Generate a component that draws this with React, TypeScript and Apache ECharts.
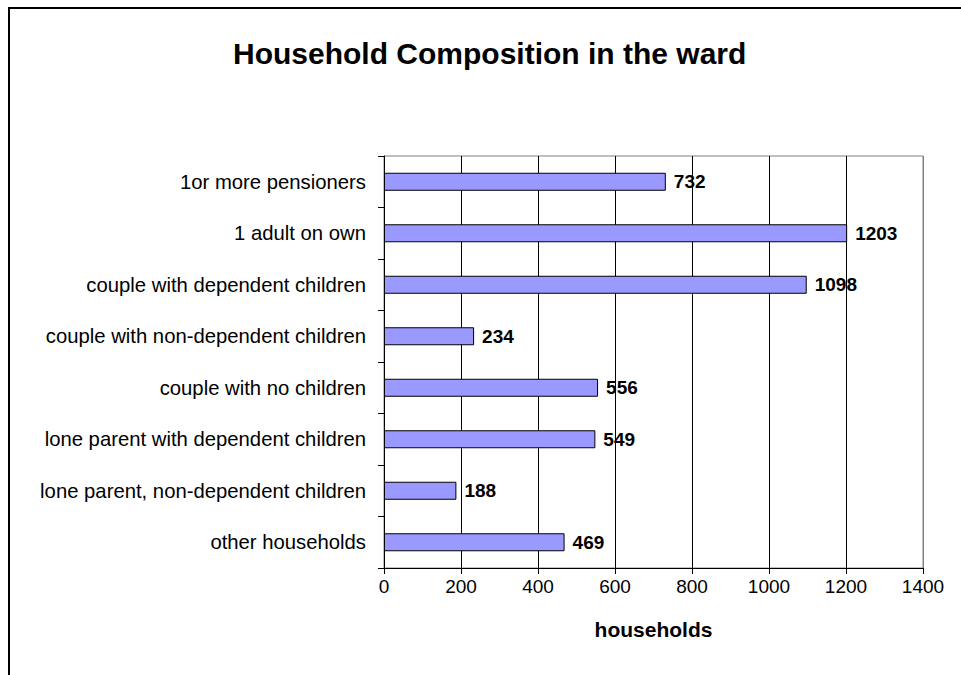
import React, { useEffect, useRef } from "react";
import * as echarts from "echarts";

const categories = [
  "1or more pensioners",
  "1 adult on own",
  "couple with dependent children",
  "couple with non-dependent children",
  "couple with no children",
  "lone parent with dependent children",
  "lone parent, non-dependent children",
  "other households",
];
const households = [732, 1203, 1098, 234, 556, 549, 188, 469];
const chartTitle = "Household Composition in the ward";
const xAxisName = "households";

const FONT = "'Liberation Sans', Arial, sans-serif";

export default function App() {
  const ref = useRef<HTMLDivElement>(null);
  useEffect(() => {
    if (!ref.current) return;
    const chart = echarts.init(ref.current, undefined, { renderer: "svg" });
    chart.setOption({
      animation: false,
      backgroundColor: "#ffffff",
      title: {
        text: chartTitle,
        left: 233,
        top: 38,
        padding: 0,
        textStyle: { fontFamily: FONT, fontSize: 30, fontWeight: "bold", color: "#000" },
      },
      graphic: [
        {
          type: "rect",
          shape: { x: 9, y: 8, width: 1200, height: 1200 },
          style: { fill: "none", stroke: "#000", lineWidth: 2 },
          silent: true,
        },
      ],
      grid: {
        left: 384,
        right: 38,
        top: 156,
        bottom: 107,
        show: true,
        borderColor: "#808080",
        borderWidth: 1,
        backgroundColor: "transparent",
      },
      xAxis: {
        type: "value",
        min: 0,
        max: 1400,
        interval: 200,
        name: xAxisName,
        nameLocation: "middle",
        nameGap: 51,
        nameTextStyle: { fontFamily: FONT, fontSize: 21, fontWeight: "bold", color: "#000" },
        axisLine: { show: true, lineStyle: { color: "#000", width: 1 } },
        axisTick: { show: true, length: 6, lineStyle: { color: "#000" } },
        axisLabel: {
          fontFamily: FONT,
          fontSize: 19,
          color: "#000",
          margin: 9,
          formatter: (v: number) => String(v),
        },
        splitLine: {
          show: true,
          lineStyle: {
            color: ["#000", "#000", "#000", "#000", "#000", "#000", "#000", "#808080"],
            width: 1,
          },
        },
      },
      yAxis: {
        type: "category",
        data: categories,
        inverse: true,
        axisLine: { show: true, lineStyle: { color: "#000", width: 1 } },
        axisTick: { show: true, length: 6, lineStyle: { color: "#000" } },
        axisLabel: { fontFamily: FONT, fontSize: 20.3, color: "#000", margin: 18 },
        splitLine: { show: false },
      },
      series: [
        {
          type: "bar",
          data: households,
          barWidth: 18,
          itemStyle: { color: "#9999FF", borderColor: "#000", borderWidth: 1 },
          label: {
            show: true,
            position: "right",
            distance: 8,
            fontFamily: FONT,
            fontSize: 19,
            fontWeight: "bold",
            color: "#000",
          },
        },
      ],
    });
    return () => chart.dispose();
  }, []);
  return (
    <div
      ref={ref}
      style={{ position: "absolute", left: 0, top: 0, width: 961, height: 675 }}
    />
  );
}
